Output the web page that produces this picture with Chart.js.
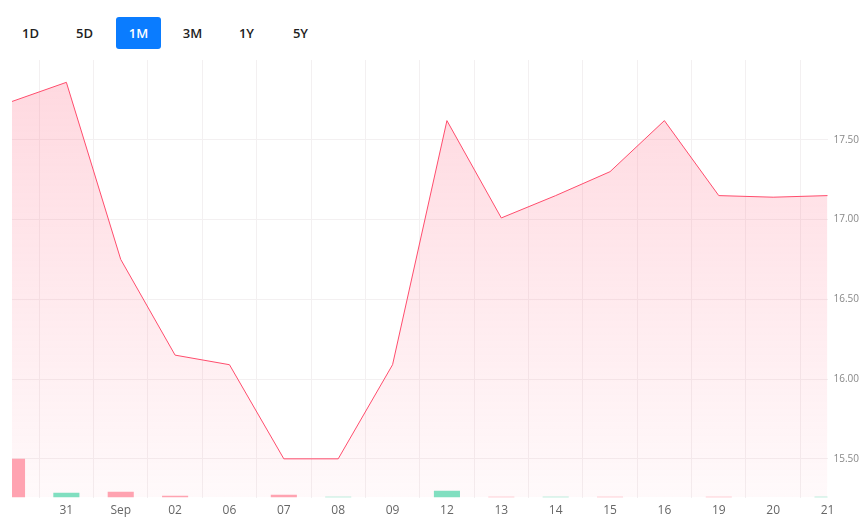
<!DOCTYPE html>
<html>
<head>
<meta charset="utf-8">
<script src="https://cdn.jsdelivr.net/npm/chart.js@4"></script>
<style>
  body { margin: 0; background: #fff; font-family: "Open Sans", sans-serif; }
  #ranges { position: absolute; left: 8px; top: 17px; height: 32px; display: flex; }
  #ranges span { display: inline-block; width: 45px; line-height: 32px; text-align: center;
    font-size: 13px; font-weight: 600; color: #222; border-radius: 3px; margin-right: 9px; }
  #ranges span.on { background: #0a7cff; color: #fff; }
  #wrap { position: absolute; left: 0; top: 48px; width: 865px; height: 484px; }
</style>
</head>
<body>
<div id="ranges"><span>1D</span><span>5D</span><span class="on">1M</span><span>3M</span><span>1Y</span><span>5Y</span></div>
<div id="wrap"><canvas id="priceChart"></canvas></div>
<script>
var labels = ['', '31', 'Sep', '02', '06', '07', '08', '09', '12', '13', '14', '15', '16', '19', '20', '21'];
var prices = [17.74, 17.86, 16.75, 16.15, 16.09, 15.50, 15.50, 16.09, 17.62, 17.01, 17.15, 17.30, 17.62, 17.15, 17.14, 17.15];
var volumes = [400, 50, 60, 20, 0, 30, 10, 0, 70, 10, 10, 10, 0, 10, 0, 10];
var volumeUp = [false, true, false, false, false, false, true, true, true, false, true, false, false, false, false, true];

var ctx = document.getElementById('priceChart').getContext('2d');
var grad = ctx.createLinearGradient(0, 0, 0, 452);
grad.addColorStop(0, 'rgba(255, 120, 145, 0.3)');
grad.addColorStop(1, 'rgba(255, 120, 145, 0.04)');

var priceChart = new Chart(ctx, {
    data: {
        labels: labels,
        datasets: [{
            type: 'line',
            data: prices,
            yAxisID: 'y',
            borderColor: '#ff4d6d',
            borderWidth: 1,
            backgroundColor: grad,
            fill: 'start',
            pointRadius: 0,
            tension: 0,
            order: 2
        }, {
            type: 'bar',
            data: volumes,
            yAxisID: 'v',
            backgroundColor: volumeUp.map(up => up ? '#80dfc0' : '#ffa3b1'),
            barPercentage: 0.48,
            categoryPercentage: 1,
            order: 1
        }]
    },
    options: {
        responsive: true,
        maintainAspectRatio: false,
        animation: false,
        layout: { padding: { left: 12, right: 0, top: 0, bottom: 8 } },
        plugins: { legend: { display: false }, tooltip: { enabled: false } },
        scales: {
            x: {
                offset: false,
                grid: { color: '#f3f0f1', drawTicks: false },
                border: { display: false },
                ticks: { autoSkip: false, maxRotation: 0, color: '#666', padding: 6,
                    font: { family: 'Open Sans', size: 12 } }
            },
            y: {
                position: 'right',
                min: 15.257,
                max: 18.0,
                grid: { color: '#f3f0f1', drawTicks: false },
                border: { display: false },
                afterBuildTicks: function (axis) {
                    var t = [];
                    for (var v = 15.5; v <= 17.5001; v += 0.5) t.push({ value: v });
                    axis.ticks = t;
                },
                ticks: { color: '#888', padding: 6, font: { family: 'Open Sans', size: 10 },
                    callback: v => Number(v).toFixed(2) }
            },
            v: {
                display: false,
                min: 0,
                max: 4510
            }
        }
    }
});
</script>
</body>
</html>
